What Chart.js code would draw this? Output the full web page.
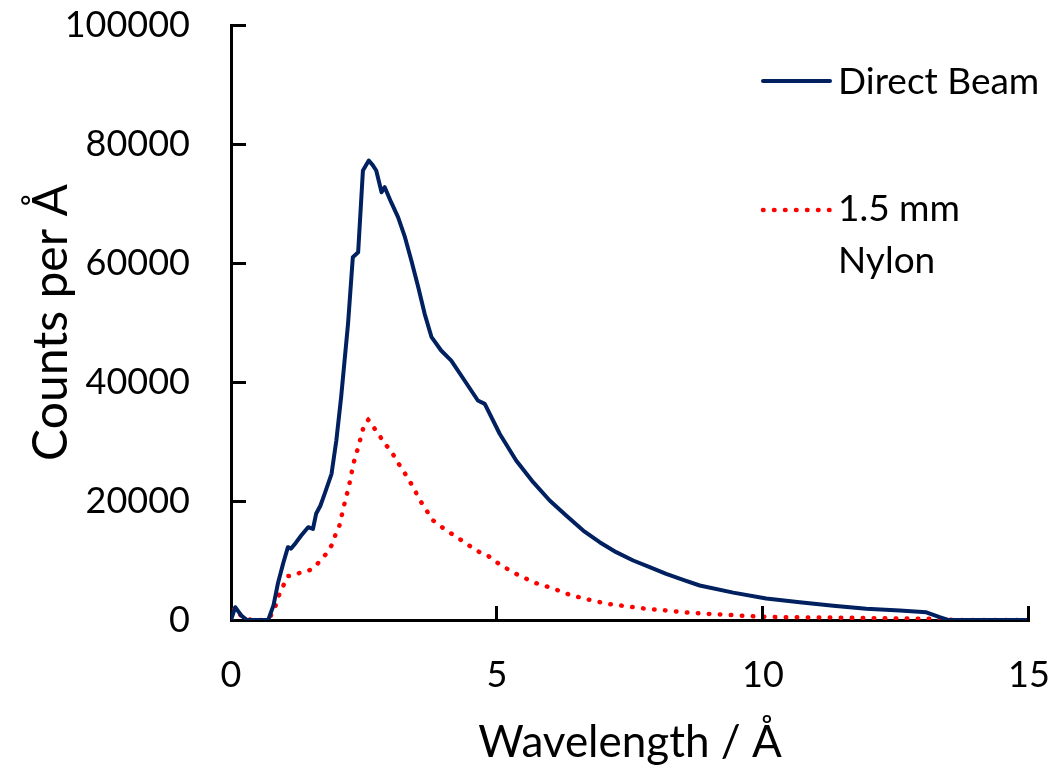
<!DOCTYPE html>
<html>
<head>
<meta charset="utf-8">
<script src="https://cdn.jsdelivr.net/npm/chart.js@4"></script>
<style>
  body { margin: 0; background: #fff; }
  #wrap { width: 1056px; height: 769px; position: relative; }
</style>
</head>
<body>
<div id="wrap"><canvas id="chart"></canvas></div>
<script>
// wavelength (Å) and counts per Å
var beamX = [0, 0.08, 0.2, 0.3, 0.7, 0.8, 0.88, 0.98, 1.07, 1.13, 1.22, 1.32, 1.45, 1.54, 1.6, 1.68, 1.76, 1.89, 1.98, 2.07,
  2.2, 2.29, 2.39, 2.48, 2.59, 2.66, 2.73, 2.83, 2.89, 3.01, 3.14, 3.27, 3.39, 3.52, 3.64, 3.77, 3.95, 4.14, 4.39, 4.64,
  4.77, 5.05, 5.36, 5.68, 5.99, 6.3, 6.62, 6.93, 7.24, 7.56, 7.87, 8.18, 8.5, 8.81, 9.44, 10.06, 10.69, 11.32, 11.94, 12.57,
  13.07, 13.32, 13.48, 15];
var beamY = [0, 2150, 700, 0, 0, 2500, 6080, 9500, 12240, 12000, 13000, 14200, 15600, 15300, 17850, 19200, 21200, 24570, 30170, 37450,
  49780, 60980, 61800, 75550, 77230, 76500, 75550, 71900, 72740, 70220, 67700, 64340, 60420, 55940, 51460, 47530, 45300, 43600, 40250, 36890,
  36330, 31300, 26800, 23160, 20080, 17560, 15040, 13080, 11400, 10000, 8880, 7760, 6750, 5800, 4600, 3600, 3000, 2380, 1880, 1600,
  1300, 470, 0, 0];

var nylonX = [0, 0.07, 0.2, 0.38, 0.57, 0.75, 0.84, 0.9, 0.98, 1.06, 1.18, 1.32, 1.45, 1.55, 1.68, 1.8, 1.9, 1.97, 2.03, 2.12,
  2.22, 2.3, 2.4, 2.5, 2.58, 2.64, 2.73, 2.8, 2.86, 2.95, 3.03, 3.13, 3.23, 3.33, 3.43, 3.52, 3.61, 3.7, 3.8, 3.91,
  4.05, 4.17, 4.32, 4.44, 4.55, 4.69, 4.85, 5.08, 5.39, 5.71, 6.04, 6.37, 6.71, 7.07, 7.43, 7.81, 8.18, 8.56, 8.94, 9.34,
  9.72, 10.31, 11.32, 12.2, 13.2, 13.6, 15];
var nylonY = [0, 2100, 590, 0, 0, 760, 2440, 4120, 5690, 7370, 7480, 8040, 8260, 8710, 10000, 11230, 12690, 14490, 15600, 19080,
  22600, 26250, 29330, 32740, 33640, 33080, 31680, 30960, 29780, 29050, 28100, 26520, 25240, 23730, 22270, 20640, 19300, 18070, 16720, 16000,
  15000, 14370, 13480, 12690, 12130, 11290, 10670, 9160, 7600, 6250, 5350, 4230, 3450, 2720, 2320, 1880, 1600, 1260, 1040, 870,
  650, 470, 400, 300, 200, 0, 0];

var seriesNames = ["Direct Beam", ["1.5 mm", "Nylon"]];
var xTicks = [0, 5, 10, 15];
var yTicks = [0, 20000, 40000, 60000, 80000, 100000];

var navy = "#002060";
var red = "#FF0000";
var fontFam = "Lato, 'Open Sans', sans-serif";

function pts(xs, ys) {
  return xs.map(function (x, i) { return { x: x, y: ys[i] }; });
}

// inward tick marks, like the spreadsheet original
var innerTicks = {
  id: "innerTicks",
  afterDraw: function (chart) {
    var ctx = chart.ctx, xs = chart.scales.x, ys = chart.scales.y;
    var left = xs.left, bottom = ys.bottom;
    ctx.save();
    ctx.fillStyle = "#000";
    xTicks.forEach(function (v) {
      if (v === 0) return;
      var px = Math.round(xs.getPixelForValue(v));
      ctx.fillRect(px - 2, bottom - 14, 3, 15);
    });
    yTicks.forEach(function (v) {
      if (v === 0) return;
      var py = Math.round(ys.getPixelForValue(v));
      ctx.fillRect(left, py - 1, 15, 3);
    });
    ctx.restore();
  }
};

// legend on the right, inside the plot
var sideLegend = {
  id: "sideLegend",
  afterDraw: function (chart) {
    var ctx = chart.ctx;
    ctx.save();
    ctx.lineCap = "round";
    ctx.strokeStyle = navy;
    ctx.lineWidth = 4;
    ctx.beginPath();
    ctx.moveTo(763, 81);
    ctx.lineTo(830, 81);
    ctx.stroke();

    ctx.strokeStyle = red;
    ctx.lineWidth = 4.5;
    ctx.setLineDash([0.5, 10.5]);
    ctx.beginPath();
    ctx.moveTo(763, 210);
    ctx.lineTo(832, 210);
    ctx.stroke();
    ctx.setLineDash([]);

    ctx.fillStyle = "#000";
    ctx.font = "37px " + fontFam;
    ctx.textBaseline = "middle";
    ctx.textAlign = "left";
    ctx.fillText(seriesNames[0], 838, 82);
    ctx.fillText(seriesNames[1][0], 838, 209);
    ctx.fillText(seriesNames[1][1], 838, 261);
    ctx.restore();
  }
};

new Chart(document.getElementById("chart"), {
  type: "line",
  data: {
    datasets: [
      {
        label: "Direct Beam",
        data: pts(beamX, beamY),
        borderColor: navy,
        backgroundColor: navy,
        borderWidth: 4,
        pointRadius: 0,
        tension: 0,
        borderJoinStyle: "round"
      },
      {
        label: "1.5 mm Nylon",
        data: pts(nylonX, nylonY),
        borderColor: red,
        backgroundColor: red,
        borderWidth: 4.5,
        borderDash: [0.5, 10.5],
        borderCapStyle: "round",
        pointRadius: 0,
        tension: 0
      }
    ]
  },
  options: {
    responsive: true,
    maintainAspectRatio: false,
    animation: false,
    layout: { padding: { top: 25, right: 27, left: 0, bottom: 0 } },
    plugins: { legend: { display: false }, tooltip: { enabled: false } },
    scales: {
      x: {
        type: "linear",
        min: 0,
        max: 15,
        afterFit: function (s) { s.height = 149; s.paddingLeft = 0; s.paddingRight = 0; },
        afterBuildTicks: function (s) { s.ticks = xTicks.map(function (v) { return { value: v }; }); },
        grid: { display: false, drawTicks: false },
        border: { display: true, color: "#000", width: 3 },
        ticks: { color: "#000", padding: 34, maxRotation: 0, font: { family: fontFam, size: 36 } },
        title: {
          display: true,
          text: "Wavelength / Å",
          color: "#000",
          font: { family: fontFam, size: 44, lineHeight: 1 },
          padding: { top: 0, bottom: 4 }
        }
      },
      y: {
        min: 0,
        max: 100000,
        afterFit: function (s) { s.width = 231; s.paddingTop = 0; s.paddingBottom = 0; },
        afterBuildTicks: function (s) { s.ticks = yTicks.map(function (v) { return { value: v }; }); },
        grid: { display: false, drawTicks: false },
        border: { display: true, color: "#000", width: 3 },
        ticks: {
          color: "#000",
          padding: 41,
          font: { family: fontFam, size: 36 },
          callback: function (v) { return String(v); }
        },
        title: {
          display: true,
          text: "Counts per Å",
          color: "#000",
          font: { family: fontFam, size: 48, lineHeight: 1 },
          padding: { top: 28, bottom: 0 }
        }
      }
    }
  },
  plugins: [innerTicks, sideLegend]
});
</script>
</body>
</html>
